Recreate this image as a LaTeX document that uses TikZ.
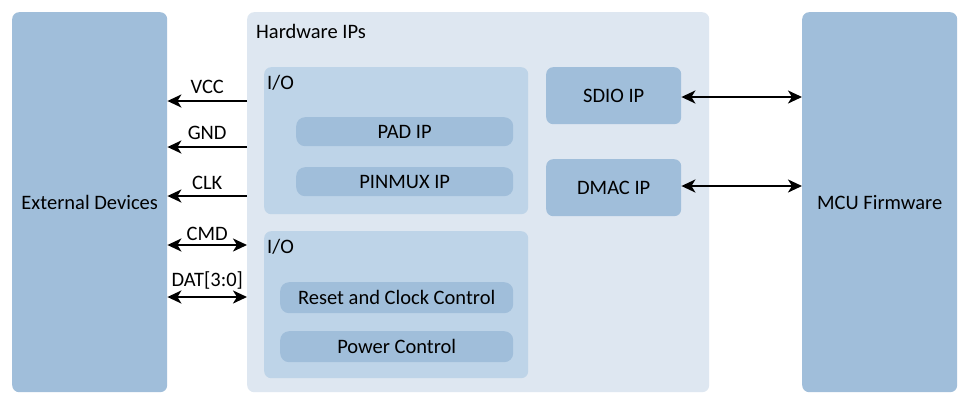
\documentclass[tikz,border=0pt]{standalone}
\usepackage{fontspec}
\setmainfont{Carlito}
\usetikzlibrary{arrows.meta}
\definecolor{dark}{HTML}{A0BEDA}
\definecolor{mid}{HTML}{BED4E8}
\definecolor{light}{HTML}{DEE7F1}
\tikzset{
  box/.style={fill=#1, rounded corners=7pt, draw=none},
  lbl/.style={font=\fontsize{20.5}{24}\selectfont, inner sep=0pt},
  conn/.style={line width=2.2pt, -{Stealth[length=14pt,width=13pt,inset=4pt]}},
  bconn/.style={line width=2.2pt, {Stealth[length=14pt,width=13pt,inset=4pt]}-{Stealth[length=14pt,width=13pt,inset=4pt]}},
}
\begin{document}
\begin{tikzpicture}[x=1pt,y=-1pt]
\useasboundingbox (0,0) rectangle (970,405);
\fill[white] (0,0) rectangle (970,405);
% main boxes
\node[box=dark, minimum width=155pt, minimum height=380pt, anchor=north west, lbl] (ext) at (12,12) {External Devices};
\node[box=dark, minimum width=155pt, minimum height=380pt, anchor=north west, lbl] (mcu) at (802,12) {MCU Firmware};
\node[box=light, minimum width=462pt, minimum height=380pt, anchor=north west] (hw) at (247,12) {};
\node[lbl, anchor=west] (hwl) at (256,31) {Hardware IPs};
% I/O 1
\node[box=mid, minimum width=264pt, minimum height=147pt, anchor=north west] (io1) at (264,67) {};
\node[lbl, anchor=west] (io1l) at (267,83) {I/O};
\node[box=dark, rounded corners=9pt, minimum width=217pt, minimum height=29pt, anchor=north west, lbl] (pad) at (296,117) {PAD IP};
\node[box=dark, rounded corners=9pt, minimum width=217pt, minimum height=29pt, anchor=north west, lbl] (pinmux) at (296,167) {PINMUX IP};
% I/O 2
\node[box=mid, minimum width=264pt, minimum height=147pt, anchor=north west] (io2) at (264,231) {};
\node[lbl, anchor=west] (io2l) at (267,247) {I/O};
\node[box=dark, rounded corners=9pt, minimum width=233pt, minimum height=31pt, anchor=north west, lbl] (rcc) at (280,282) {Reset and Clock Control};
\node[box=dark, rounded corners=9pt, minimum width=233pt, minimum height=31pt, anchor=north west, lbl] (pwr) at (280,331) {Power Control};
% SDIO / DMAC
\node[box=dark, minimum width=135pt, minimum height=57pt, anchor=north west, lbl] (sdio) at (546,67) {SDIO IP};
\node[box=dark, minimum width=135pt, minimum height=57pt, anchor=north west, lbl] (dmac) at (546,159) {DMAC IP};
% right arrows
\draw[bconn] (sdio.east |- 0,97) -- (mcu.west |- 0,97);
\draw[bconn] (dmac.east |- 0,186) -- (mcu.west |- 0,186);
% left arrows
\draw[conn] (hw.west |- 0,101) -- node[lbl, above=6pt] (vcc) {VCC} (ext.east |- 0,101);
\draw[conn] (hw.west |- 0,147) -- node[lbl, above=6pt] (gnd) {GND} (ext.east |- 0,147);
\draw[conn] (hw.west |- 0,196) -- node[lbl, above=5pt] (clk) {CLK} (ext.east |- 0,196);
\draw[bconn] (ext.east |- 0,245) -- node[lbl, above=3pt] (cmd) {CMD} (hw.west |- 0,245);
\draw[bconn] (ext.east |- 0,297) -- node[lbl, above=7pt] (dat) {DAT[3:0]} (hw.west |- 0,297);
\end{tikzpicture}
\end{document}
